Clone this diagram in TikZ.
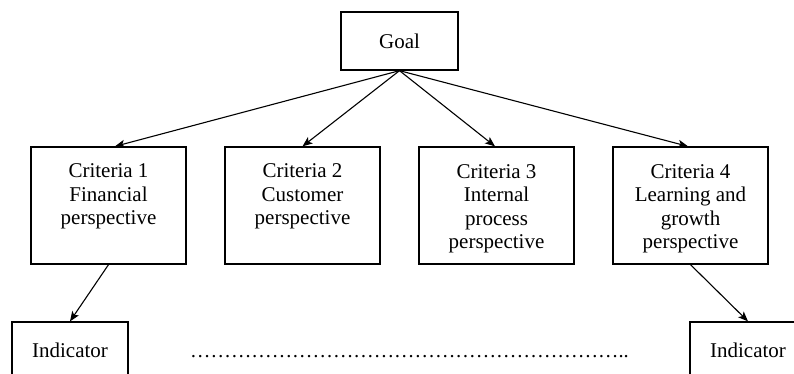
\documentclass[tikz,border=0pt]{standalone}
\usepackage{fontspec}
\setmainfont{Liberation Serif}
\usetikzlibrary{arrows.meta}
\newcommand{\toppad}{\rule{0pt}{20pt}}
\begin{document}
\begin{tikzpicture}[x=1pt,y=-1pt,
  every node/.style={font=\fontsize{21}{23.5}\selectfont, inner sep=0pt},
  box/.style={draw, line width=1.3pt, align=center},
  crit/.style={box, minimum width=155pt, minimum height=117pt},
  ind/.style={box, minimum width=116pt, minimum height=57pt},
  arr/.style={line width=1.1pt, -{Stealth[length=10pt,width=8pt,inset=2.5pt]}}]
\useasboundingbox (0,0) rectangle (794,373);
\clip (0,0) rectangle (794,373);
\node[box, minimum width=117pt, minimum height=58pt] (goal) at (399.5,41) {Goal};
\node[crit] (c1) at (108.5,205.5) {\toppad Criteria 1\\Financial\\perspective\\\rule[-4.6pt]{0pt}{1pt}};
\node[crit] (c2) at (302.5,205.5) {\toppad Criteria 2\\Customer\\perspective\\\rule[-4.6pt]{0pt}{1pt}};
\node[crit] (c3) at (496.5,205.5) {\toppad Criteria 3\\Internal\\process\\perspective};
\node[crit] (c4) at (690.5,205.5) {\toppad Criteria 4\\Learning and\\growth\\perspective};
\node[ind] (i1) at (70,350.5) {Indicator};
\node[ind] (i2) at (748,350.5) {Indicator};
\node[anchor=base west, font=\fontsize{20.4}{23.5}\selectfont] (dots) at (190,357) {\dots\dots\dots\dots\dots\dots\dots\dots\dots\dots\dots\dots\dots\dots\dots\dots\dots\dots\dots\dots\dots..};
\draw[arr] (goal.south) -- ([xshift=6.5pt]c1.north);
\draw[arr] (goal.south) -- (c2.north);
\draw[arr] (goal.south) -- ([xshift=-1.5pt]c3.north);
\draw[arr] (goal.south) -- ([xshift=-2.5pt]c4.north);
\draw[arr] (c1.south) -- (i1.north);
\draw[arr] (c4.south) -- (i2.north);
\end{tikzpicture}
\end{document}
